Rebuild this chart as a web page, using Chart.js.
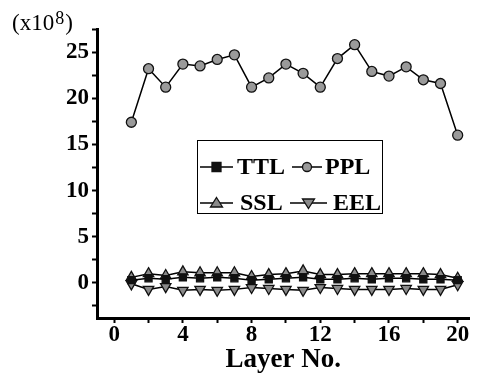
<!DOCTYPE html>
<html>
<head>
<meta charset="utf-8">
<script src="https://cdn.jsdelivr.net/npm/chart.js@4/dist/chart.umd.min.js"></script>
<style>
  html, body { margin: 0; padding: 0; background: #fff; }
  #wrap { width: 477px; height: 380px; }
</style>
</head>
<body>
<div id="wrap"><canvas id="myChart" width="477" height="380"></canvas></div>
<script>
// layer numbers
const layers = [1,2,3,4,5,6,7,8,9,10,11,12,13,14,15,16,17,18,19,20];
// values in units of 1e8
const ttl = [0.3,0.5,0.4,0.6,0.5,0.6,0.5,0.3,0.4,0.5,0.6,0.4,0.4,0.5,0.4,0.5,0.5,0.4,0.4,0.3];
const ppl = [17.4,23.2,21.2,23.7,23.5,24.2,24.7,21.2,22.2,23.7,22.7,21.2,24.3,25.8,22.9,22.4,23.4,22.0,21.6,16.0];
const ssl = [0.6,1.0,0.8,1.2,1.1,1.1,1.1,0.7,0.9,1.0,1.3,0.9,0.9,1.0,1.0,1.0,1.0,1.0,0.9,0.5];
const eel = [-0.1,-0.7,-0.4,-0.8,-0.7,-0.8,-0.7,-0.5,-0.6,-0.7,-0.8,-0.5,-0.6,-0.7,-0.7,-0.7,-0.6,-0.7,-0.7,-0.2];
const xTicks = [0,2,4,6,8,10,12,14,16,18,20];
const yTicks = [-2.5,0,2.5,5,7.5,10,12.5,15,17.5,20,22.5,25,27.5];

const serif = "'Liberation Serif', 'DejaVu Serif', serif";

function pts(arr) {
  return arr.map(function (v, i) { return { x: layers[i], y: v }; });
}

function series(label, data, style, fill, rot) {
  return {
    label: label,
    data: pts(data),
    borderColor: '#000',
    borderWidth: 1.5,
    pointStyle: style,
    pointRotation: rot || 0,
    pointRadius: style == 'triangle' ? 6 : 5,
    pointBackgroundColor: fill,
    pointBorderColor: '#111',
    pointBorderWidth: 1.3,
    fill: false,
    tension: 0
  };
}

// marker for the legend box
function marker(ctx, style, rot, x, y, fill) {
  ctx.save();
  ctx.fillStyle = fill;
  ctx.strokeStyle = '#111';
  ctx.lineWidth = 1.3;
  ctx.beginPath();
  if (style == 'rect') {
    ctx.rect(x - 4.5, y - 4.5, 9, 9);
  } else if (style == 'circle') {
    ctx.arc(x, y, 4.5, 0, Math.PI * 2);
  } else {
    var s = rot ? -1 : 1;
    ctx.moveTo(x, y - 5.5 * s);
    ctx.lineTo(x + 6, y + 4 * s);
    ctx.lineTo(x - 6, y + 4 * s);
    ctx.closePath();
  }
  ctx.fill();
  ctx.stroke();
  ctx.restore();
}

const boxLegend = {
  id: 'boxLegend',
  afterDraw: function (chart) {
    var ctx = chart.ctx;
    ctx.save();
    ctx.strokeStyle = '#000';
    ctx.lineWidth = 1;
    ctx.strokeRect(197.5, 140.5, 185, 73);
    // line start, line end, text start, row y
    var spots = [[200, 233, 237, 167], [292, 322, 325, 167], [200, 233, 240, 203], [290, 327, 333, 203]];
    ctx.font = 'bold 24px ' + serif;
    ctx.textBaseline = 'middle';
    ctx.fillStyle = '#000';
    chart.data.datasets.forEach(function (ds, i) {
      var p = spots[i];
      ctx.beginPath();
      ctx.lineWidth = 1.5;
      ctx.moveTo(p[0], p[3]);
      ctx.lineTo(p[1], p[3]);
      ctx.stroke();
      marker(ctx, ds.pointStyle, ds.pointRotation, (p[0] + p[1]) / 2, p[3], ds.pointBackgroundColor);
      ctx.fillText(ds.label, p[2], p[3] + 1);
    });
    // axis multiplier
    ctx.font = '23px ' + serif;
    ctx.textBaseline = 'alphabetic';
    ctx.fillText('(x10', 12, 30);
    var w1 = ctx.measureText('(x10').width;
    ctx.font = '18px ' + serif;
    ctx.fillText('8', 12 + w1 + 1, 24);
    var w2 = ctx.measureText('8').width;
    ctx.font = '23px ' + serif;
    ctx.fillText(')', 12 + w1 + w2 + 2, 30);
    ctx.restore();
  }
};

const data = {
  datasets: [
    series('TTL', ttl, 'rect', '#111'),
    series('PPL', ppl, 'circle', '#9a9a9a'),
    series('SSL', ssl, 'triangle', '#8a8a8a'),
    series('EEL', eel, 'triangle', '#8a8a8a', 180)
  ]
};

const config = {
  type: 'line',
  data: data,
  options: {
    responsive: false,
    animation: false,
    layout: { padding: { top: 29, right: 0, left: 0, bottom: 0 } },
    plugins: { legend: { display: false }, tooltip: { enabled: false } },
    scales: {
      x: {
        type: 'linear',
        min: -1,
        max: 20.7,
        afterBuildTicks: function (s) { s.ticks = xTicks.map(function (v) { return { value: v }; }); },
        afterFit: function (s) { s.height = 62; },
        border: { display: true, color: '#000', width: 3 },
        grid: { drawOnChartArea: false, color: '#000', tickLength: 5, tickWidth: 2 },
        ticks: {
          autoSkip: false,
          maxRotation: 0,
          padding: -2,
          color: '#000',
          font: { family: serif, size: 23, weight: 'bold' },
          callback: function (v) { return v % 4 == 0 ? v : ''; }
        },
        title: {
          display: true,
          text: 'Layer No.',
          color: '#000',
          padding: { top: -6 },
          font: { family: serif, size: 27, weight: 'bold' }
        }
      },
      y: {
        min: -3.8,
        max: 27.5,
        afterBuildTicks: function (s) { s.ticks = yTicks.map(function (v) { return { value: v }; }); },
        afterFit: function (s) { s.width = 97; },
        border: { display: true, color: '#000', width: 3 },
        grid: { drawOnChartArea: false, color: '#000', tickLength: 5, tickWidth: 2 },
        ticks: {
          autoSkip: false,
          padding: 3,
          color: '#000',
          font: { family: serif, size: 23, weight: 'bold' },
          callback: function (v) { return v % 5 == 0 ? v : ''; }
        }
      }
    }
  },
  plugins: [boxLegend]
};

const ctx = document.getElementById('myChart');
new Chart(ctx, config);
</script>
</body>
</html>
